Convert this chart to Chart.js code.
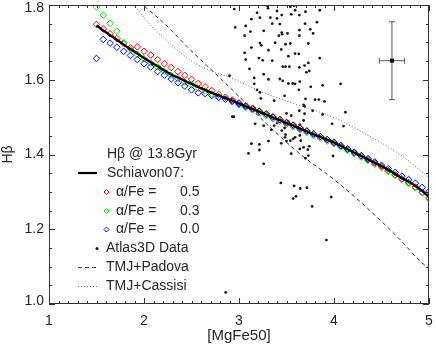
<!DOCTYPE html>
<html>
<head>
<meta charset="utf-8">
<title>Hbeta vs MgFe50</title>
<script src="https://cdn.jsdelivr.net/npm/chart.js@4.4.1/dist/chart.umd.min.js"></script>
<style>
    html, body { margin: 0; padding: 0; background: #fff; }
    #wrap { width: 436px; height: 347px; }
</style>
</head>
<body>
<div id="wrap"><canvas id="myChart" width="436" height="347"></canvas></div>
<script>
"use strict"

//ticks
let xTicks = [1, 2, 3, 4, 5];
let yTicks = [1.0, 1.2, 1.4, 1.6, 1.8];

//model grid [MgFe50]
let mgfeGrid = [1.500, 1.571, 1.643, 1.714, 1.786, 1.857, 1.929, 2.000, 2.071, 2.143,
    2.214, 2.286, 2.357, 2.429, 2.500, 2.571, 2.643, 2.714, 2.786, 2.857,
    2.929, 3.000, 3.071, 3.143, 3.214, 3.286, 3.357, 3.429, 3.500, 3.571,
    3.643, 3.714, 3.786, 3.857, 3.929, 4.000, 4.071, 4.143, 4.214, 4.286,
    4.357, 4.429, 4.500, 4.571, 4.643, 4.714, 4.786, 4.857, 4.929, 5.000];

//Schiavon07 line
let schiavon07 = [1.745, 1.732, 1.720, 1.707, 1.694, 1.682, 1.670, 1.658, 1.647, 1.636,
    1.625, 1.614, 1.606, 1.597, 1.589, 1.580, 1.573, 1.565, 1.558, 1.551,
    1.544, 1.536, 1.529, 1.522, 1.514, 1.507, 1.499, 1.492, 1.484, 1.477,
    1.469, 1.462, 1.454, 1.447, 1.439, 1.432, 1.423, 1.414, 1.405, 1.396,
    1.387, 1.378, 1.369, 1.359, 1.348, 1.337, 1.327, 1.316, 1.302, 1.287];

//alpha/Fe diamonds
let alphaFe05 = [1.748, 1.736, 1.723, 1.710, 1.697, 1.685, 1.688, 1.676, 1.666, 1.654,
    1.643, 1.633, 1.622, 1.612, 1.601, 1.590, 1.581, 1.571, 1.561, 1.553,
    1.546, 1.538, 1.531, 1.524, 1.516, 1.509, 1.501, 1.494, 1.486, 1.479,
    1.471, 1.463, 1.455, 1.448, 1.440, 1.432, 1.423, 1.414, 1.405, 1.396,
    1.386, 1.377, 1.368, 1.357, 1.346, 1.335, 1.325, 1.313, 1.299, 1.284];
let alphaFe03 = [1.795, 1.773, 1.751, 1.730, 1.699, 1.681, 1.668, 1.656, 1.645, 1.634,
    1.623, 1.612, 1.603, 1.594, 1.586, 1.577, 1.570, 1.562, 1.555, 1.548,
    1.541, 1.533, 1.526, 1.519, 1.511, 1.504, 1.496, 1.489, 1.481, 1.474,
    1.466, 1.459, 1.451, 1.444, 1.436, 1.429, 1.420, 1.411, 1.402, 1.393,
    1.384, 1.374, 1.365, 1.355, 1.344, 1.333, 1.322, 1.311, 1.297, 1.281];
let alphaFe00 = [1.657, 1.708, 1.698, 1.687, 1.676, 1.665, 1.654, 1.643, 1.634, 1.622,
    1.612, 1.602, 1.592, 1.583, 1.573, 1.565, 1.563, 1.558, 1.553, 1.548,
    1.543, 1.536, 1.529, 1.522, 1.515, 1.508, 1.500, 1.493, 1.485, 1.478,
    1.470, 1.463, 1.455, 1.448, 1.440, 1.433, 1.424, 1.415, 1.406, 1.397,
    1.389, 1.380, 1.371, 1.362, 1.352, 1.342, 1.333, 1.323, 1.312, 1.302];

//TMJ models
let padovaX = [1.95, 2.24, 2.48, 2.70, 3.01, 3.29, 3.64, 3.99, 4.34, 4.70, 4.90, 5.00];
let padovaY = [1.809, 1.744, 1.682, 1.629, 1.553, 1.482, 1.402, 1.335, 1.259, 1.171, 1.116, 1.095];
let cassisiX = [1.85, 2.03, 2.24, 2.45, 2.59, 2.94, 3.29, 3.64, 3.99, 4.34, 4.70, 5.00];
let cassisiY = [1.815, 1.757, 1.704, 1.659, 1.637, 1.602, 1.562, 1.531, 1.500, 1.454, 1.399, 1.338];

//Atlas3D galaxies
let atlasX = [2.95, 3.30, 3.305, 3.40, 3.54, 3.58, 3.59, 3.19, 3.13, 3.22,
    3.33, 3.40, 3.45, 3.55, 3.635, 2.96, 3.07, 3.35, 3.43, 3.12,
    3.26, 3.45, 3.51, 3.635, 3.06, 3.42, 3.455, 3.635, 3.38, 3.22,
    3.235, 3.49, 3.54, 3.13, 3.31, 3.445, 3.06, 3.21, 3.25, 3.35,
    3.52, 3.59, 3.63, 3.07, 3.46, 3.49, 3.53, 3.635, 3.11, 3.26,
    2.90, 3.16, 3.31, 3.43, 3.46, 3.52, 3.565, 3.59, 3.16, 3.63,
    3.19, 3.70, 3.85, 3.695, 3.82, 3.75, 3.78, 3.73, 3.85, 3.73,
    3.69, 3.74, 3.71, 3.64, 3.755, 3.88, 4.07, 3.22, 3.48, 3.70,
    3.80, 3.84, 3.90, 3.37, 2.93, 2.945, 3.26, 3.33, 3.50, 3.55,
    3.635, 3.69, 4.12, 3.52, 3.68, 3.98, 4.10, 3.17, 3.26, 3.34,
    3.48, 3.64, 3.485, 3.59, 3.31, 3.13, 3.215, 3.445, 3.50, 3.55,
    3.64, 3.68, 3.99, 3.215, 3.10, 3.26, 3.68, 3.69, 3.775, 3.88,
    3.74, 3.725, 3.23, 3.37, 3.40, 3.45, 3.49, 3.54, 3.57, 3.64,
    3.65, 3.73, 3.70, 3.44, 3.58, 3.645, 3.715, 3.57, 3.60, 3.97,
    3.77, 3.92, 2.86];
let atlasY = [1.789, 1.797, 1.791, 1.784, 1.795, 1.798, 1.786, 1.779, 1.762, 1.766,
    1.766, 1.764, 1.773, 1.775, 1.773, 1.740, 1.744, 1.750, 1.749, 1.729,
    1.731, 1.726, 1.724, 1.733, 1.718, 1.718, 1.722, 1.718, 1.699, 1.698,
    1.692, 1.695, 1.697, 1.686, 1.679, 1.681, 1.672, 1.658, 1.652, 1.651,
    1.663, 1.670, 1.669, 1.654, 1.635, 1.635, 1.635, 1.633, 1.629, 1.615,
    1.611, 1.605, 1.601, 1.602, 1.597, 1.590, 1.590, 1.589, 1.589, 1.573,
    1.573, 1.782, 1.786, 1.750, 1.754, 1.735, 1.724, 1.697, 1.658, 1.645,
    1.638, 1.624, 1.620, 1.595, 1.581, 1.585, 1.589, 1.566, 1.557, 1.549,
    1.547, 1.547, 1.542, 1.544, 1.501, 1.501, 1.509, 1.499, 1.510, 1.504,
    1.517, 1.509, 1.513, 1.488, 1.491, 1.482, 1.476, 1.482, 1.477, 1.466,
    1.471, 1.480, 1.446, 1.446, 1.436, 1.429, 1.427, 1.430, 1.436, 1.402,
    1.415, 1.419, 1.396, 1.412, 1.403, 1.375, 1.533, 1.529, 1.517, 1.507,
    1.422, 1.413, 1.550, 1.477, 1.484, 1.464, 1.453, 1.437, 1.442, 1.451,
    1.437, 1.397, 1.390, 1.324, 1.316, 1.309, 1.311, 1.282, 1.288, 1.286,
    1.261, 1.171, 1.031];

//typical error bar
let errCenter = [4.61, 1.651];
let errHalf = [0.133, 0.104];

let FONT = "'Liberation Sans', Arial, sans-serif";
let TXT = "#262626";

function punti(xs, ys) {
    return xs.map(function (v, i) { return { x: v, y: ys[i] }; });
}

//riquadro, tacche e etichette y
let framePlugin = {
    id: "frame",
    afterDatasetsDraw: function (chart) {
        let ctx = chart.ctx;
        let a = chart.chartArea;
        let sx = chart.scales.x;
        let sy = chart.scales.y;
        ctx.save();
        ctx.strokeStyle = "#333";
        ctx.lineWidth = 1;
        ctx.strokeRect(Math.round(a.left) + 0.5, Math.round(a.top) + 0.5,
            Math.round(a.right - a.left) - 1, Math.round(a.bottom - a.top) - 1);
        ctx.beginPath();
        for (let i = 0; i <= 40; i++) {
            let px = Math.round(sx.getPixelForValue(1 + i * 0.1)) + 0.5;
            let len = (i % 10 == 0) ? 6 : 3;
            ctx.moveTo(px, a.bottom); ctx.lineTo(px, a.bottom - len);
            ctx.moveTo(px, a.top); ctx.lineTo(px, a.top + len);
        }
        for (let i = 0; i <= 16; i++) {
            let py = Math.round(sy.getPixelForValue(1 + i * 0.05)) + 0.5;
            let len = (i % 4 == 0) ? 6 : 3;
            ctx.moveTo(a.left, py); ctx.lineTo(a.left + len, py);
            ctx.moveTo(a.right, py); ctx.lineTo(a.right - len, py);
        }
        ctx.stroke();

        //etichette y
        ctx.fillStyle = TXT;
        ctx.font = "14px " + FONT;
        ctx.textAlign = "right";
        ctx.textBaseline = "middle";
        sy.ticks.forEach(function (t) {
            let py = sy.getPixelForValue(t.value);
            py = Math.min(Math.max(py, a.top + 3), a.bottom - 3);
            ctx.fillText(t.value.toFixed(1), a.left - 5, py);
        });
        ctx.restore();
    }
};

//barra d'errore tipica
let errPlugin = {
    id: "errbar",
    afterDatasetsDraw: function (chart) {
        let ctx = chart.ctx;
        let sx = chart.scales.x;
        let sy = chart.scales.y;
        let cx = sx.getPixelForValue(errCenter[0]);
        let cy = sy.getPixelForValue(errCenter[1]);
        let x0 = sx.getPixelForValue(errCenter[0] - errHalf[0]);
        let x1 = sx.getPixelForValue(errCenter[0] + errHalf[0]);
        let y0 = sy.getPixelForValue(errCenter[1] + errHalf[1]);
        let y1 = sy.getPixelForValue(errCenter[1] - errHalf[1]);
        ctx.save();
        ctx.strokeStyle = "#555";
        ctx.lineWidth = 1;
        ctx.beginPath();
        ctx.moveTo(x0, cy); ctx.lineTo(x1, cy);
        ctx.moveTo(cx, y0); ctx.lineTo(cx, y1);
        ctx.moveTo(x0, cy - 3); ctx.lineTo(x0, cy + 3);
        ctx.moveTo(x1, cy - 3); ctx.lineTo(x1, cy + 3);
        ctx.moveTo(cx - 3, y0); ctx.lineTo(cx + 3, y0);
        ctx.moveTo(cx - 3, y1); ctx.lineTo(cx + 3, y1);
        ctx.stroke();
        ctx.fillStyle = "#111";
        ctx.fillRect(cx - 2, cy - 2, 4, 4);
        ctx.restore();
    }
};

//legenda interna
let legendPlugin = {
    id: "legenda",
    afterDraw: function (chart) {
        let ctx = chart.ctx;
        ctx.save();
        ctx.fillStyle = TXT;
        ctx.font = "14px " + FONT;
        ctx.textAlign = "left";
        ctx.textBaseline = "middle";

        ctx.fillText("H\u03B2 @ 13.8Gyr", 107, 154);

        ctx.strokeStyle = "#000";
        ctx.lineWidth = 2.2;
        ctx.beginPath(); ctx.moveTo(78, 173); ctx.lineTo(97, 173); ctx.stroke();
        ctx.fillText("Schiavon07:", 107, 173);

        let rombi = [["#ff0000", "0.5", 192], ["#00e000", "0.3", 211], ["#0000ff", "0.0", 229.5]];
        rombi.forEach(function (r) {
            ctx.strokeStyle = r[0];
            ctx.lineWidth = 1;
            ctx.beginPath();
            ctx.moveTo(106.5, r[2] - 2.5); ctx.lineTo(109, r[2]);
            ctx.lineTo(106.5, r[2] + 2.5); ctx.lineTo(104, r[2]);
            ctx.closePath(); ctx.stroke();
            ctx.fillText("\u03B1/Fe =", 116, r[2]);
            ctx.fillText(r[1], 180, r[2]);
        });

        ctx.fillStyle = "#111";
        ctx.beginPath(); ctx.arc(97, 248.5, 1.5, 0, 2 * Math.PI); ctx.fill();
        ctx.fillStyle = TXT;
        ctx.fillText("Atlas3D Data", 106, 248.5);

        ctx.strokeStyle = "#444";
        ctx.lineWidth = 1;
        ctx.setLineDash([4, 3]);
        ctx.beginPath(); ctx.moveTo(78, 267.5); ctx.lineTo(97, 267.5); ctx.stroke();
        ctx.fillText("TMJ+Padova", 106, 267);

        ctx.strokeStyle = "#777";
        ctx.setLineDash([1, 2]);
        ctx.beginPath(); ctx.moveTo(78, 286.5); ctx.lineTo(97, 286.5); ctx.stroke();
        ctx.setLineDash([]);
        ctx.fillText("TMJ+Cassisi", 106, 286);
        ctx.restore();
    }
};

let _canvas = document.getElementById("myChart");

new Chart(_canvas, {
    type: "scatter",
    data: {
        datasets: [
            {
                label: "Schiavon07",
                data: punti(mgfeGrid, schiavon07),
                showLine: true,
                borderColor: "#000",
                borderWidth: 2.4,
                pointRadius: 0,
                tension: 0.2
            },
            {
                label: "alpha/Fe = 0.0",
                data: punti(mgfeGrid, alphaFe00),
                pointStyle: "rectRot",
                pointRadius: 3.3,
                borderColor: "#0000ff",
                backgroundColor: "rgba(0,0,0,0)",
                borderWidth: 1
            },
            {
                label: "alpha/Fe = 0.3",
                data: punti(mgfeGrid, alphaFe03),
                pointStyle: "rectRot",
                pointRadius: 3.3,
                borderColor: "#00e000",
                backgroundColor: "rgba(0,0,0,0)",
                borderWidth: 1
            },
            {
                label: "alpha/Fe = 0.5",
                data: punti(mgfeGrid, alphaFe05),
                pointStyle: "rectRot",
                pointRadius: 3.3,
                borderColor: "#ff0000",
                backgroundColor: "rgba(0,0,0,0)",
                borderWidth: 1
            },
            {
                label: "Atlas3D Data",
                data: punti(atlasX, atlasY),
                pointStyle: "circle",
                pointRadius: 1.4,
                backgroundColor: "#1a1a1a",
                borderWidth: 0
            },
            {
                label: "TMJ+Padova",
                data: punti(padovaX, padovaY),
                showLine: true,
                borderColor: "#333",
                borderWidth: 1,
                borderDash: [4, 3],
                pointRadius: 0,
                cubicInterpolationMode: "monotone"
            },
            {
                label: "TMJ+Cassisi",
                data: punti(cassisiX, cassisiY),
                showLine: true,
                borderColor: "#666",
                borderWidth: 1,
                borderDash: [1, 2],
                pointRadius: 0,
                cubicInterpolationMode: "monotone"
            }
        ]
    },
    options: {
        responsive: false,
        animation: false,
        devicePixelRatio: 1,
        layout: { padding: { left: 0, top: 4, right: 7, bottom: 0 } },
        plugins: {
            legend: { display: false },
            tooltip: { enabled: false }
        },
        scales: {
            x: {
                type: "linear",
                min: 1,
                max: 5,
                afterBuildTicks: function (scale) {
                    scale.ticks = xTicks.map(function (v) { return { value: v }; });
                },
                afterFit: function (scale) {
                    scale.height = 43;
                    scale.paddingLeft = 0;
                    scale.paddingRight = 0;
                },
                grid: { display: false, drawTicks: false },
                border: { display: false },
                ticks: {
                    padding: 9,
                    color: TXT,
                    maxRotation: 0,
                    font: { family: FONT, size: 14 },
                    callback: function (v) { return String(v); }
                },
                title: {
                    display: true,
                    text: "[MgFe50]",
                    color: TXT,
                    font: { family: FONT, size: 15 },
                    padding: { top: 0, bottom: 2 }
                }
            },
            y: {
                type: "linear",
                min: 1.0,
                max: 1.8,
                afterBuildTicks: function (scale) {
                    scale.ticks = yTicks.map(function (v) { return { value: v }; });
                },
                afterFit: function (scale) {
                    scale.width = 49;
                    scale.paddingTop = 0;
                    scale.paddingBottom = 0;
                },
                grid: { display: false, drawTicks: false },
                border: { display: false },
                ticks: { display: false },
                title: {
                    display: true,
                    text: "H\u03B2",
                    color: TXT,
                    font: { family: FONT, size: 14 },
                    padding: 0
                }
            }
        }
    },
    plugins: [framePlugin, errPlugin, legendPlugin]
});
</script>
</body>
</html>
